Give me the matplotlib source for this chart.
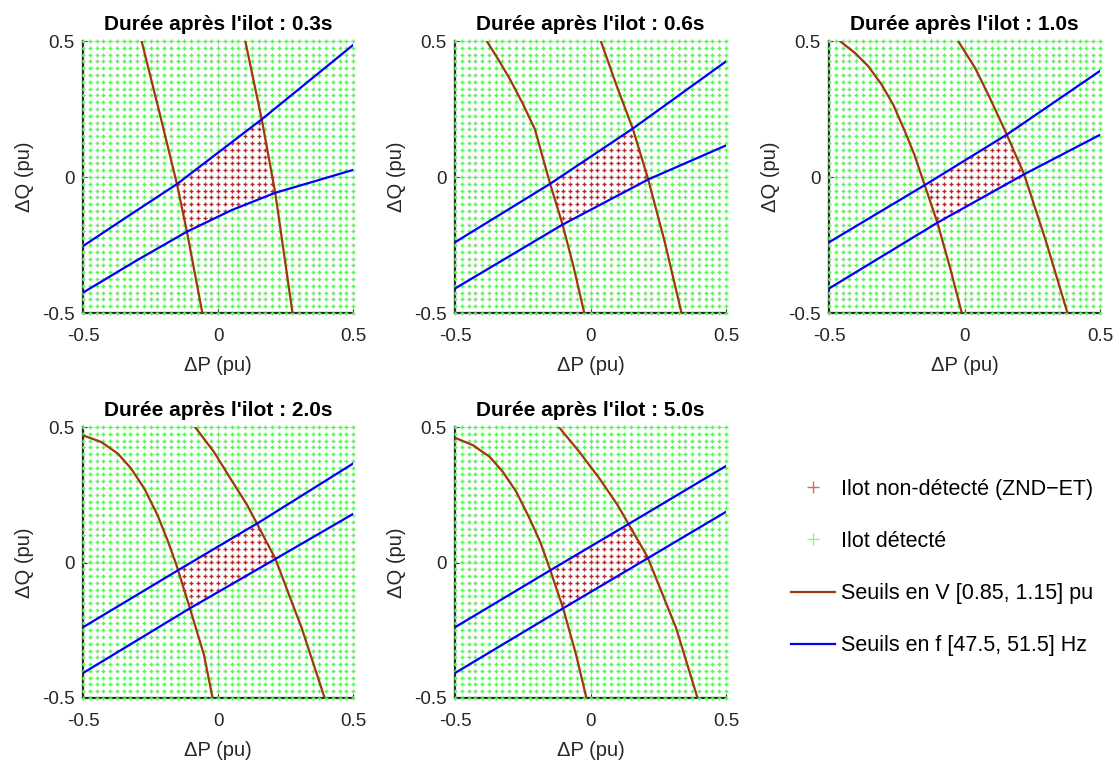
import numpy as np
import matplotlib
matplotlib.use('Agg')
import matplotlib.pyplot as plt
from matplotlib.lines import Line2D

plt.rcParams['font.family'] = ['Liberation Sans', 'DejaVu Sans']
plt.rcParams['axes.unicode_minus'] = False

durees = ['0.3', '0.6', '1.0', '2.0', '5.0']

# seuils en V : courbes (dP, dQ), gauche et droite
v_gauche = [
    ([-0.283, -0.216, -0.152, -0.115, -0.058],
     [0.5, 0.234, -0.026, -0.201, -0.5]),
    ([-0.383, -0.340, -0.297, -0.250, -0.205, -0.149, -0.103, -0.063, -0.023],
     [0.5, 0.432, 0.359, 0.270, 0.175, -0.025, -0.175, -0.328, -0.5]),
    ([-0.459, -0.404, -0.355, -0.306, -0.263, -0.220, -0.185, -0.158, -0.100, -0.051, -0.010],
     [0.499, 0.456, 0.407, 0.340, 0.266, 0.168, 0.082, 0.003, -0.168, -0.342, -0.5]),
    ([-0.500, -0.433, -0.371, -0.322, -0.273, -0.224, -0.185, -0.154, -0.104, -0.052, -0.020],
     [0.469, 0.445, 0.402, 0.347, 0.273, 0.175, 0.077, -0.009, -0.169, -0.341, -0.5]),
    ([-0.500, -0.434, -0.372, -0.323, -0.274, -0.225, -0.186, -0.155, -0.101, -0.053, -0.015],
     [0.460, 0.433, 0.390, 0.334, 0.261, 0.163, 0.077, -0.009, -0.169, -0.341, -0.5]),
]
v_droite = [
    ([0.101, 0.162, 0.212, 0.276],
     [0.5, 0.212, -0.058, -0.5]),
    ([0.038, 0.097, 0.156, 0.213, 0.275, 0.336],
     [0.5, 0.334, 0.178, -0.009, -0.243, -0.5]),
    ([-0.023, 0.039, 0.094, 0.156, 0.220, 0.303, 0.380],
     [0.499, 0.401, 0.290, 0.156, 0.010, -0.244, -0.5]),
    ([-0.085, -0.015, 0.046, 0.108, 0.212, 0.310, 0.395],
     [0.5, 0.408, 0.310, 0.212, 0.015, -0.242, -0.5]),
    ([-0.117, -0.041, 0.033, 0.100, 0.210, 0.316, 0.395],
     [0.5, 0.408, 0.310, 0.212, 0.021, -0.242, -0.5]),
]
# seuils en f : courbes (dP, dQ), haute et basse
f_haut = [
    ([-0.5, -0.327, -0.152, 0.162, 0.5], [-0.254, -0.140, -0.026, 0.212, 0.485]),
    ([-0.5, -0.149, 0.156, 0.5], [-0.240, -0.025, 0.178, 0.425]),
    ([-0.5, -0.142, 0.158, 0.5], [-0.240, -0.027, 0.157, 0.390]),
    ([-0.5, -0.147, 0.155, 0.5], [-0.239, -0.028, 0.150, 0.365]),
    ([-0.5, -0.147, 0.154, 0.5], [-0.239, -0.028, 0.150, 0.356]),
]
f_bas = [
    ([-0.5, -0.30, -0.115, 0.05, 0.212, 0.35, 0.5], [-0.425, -0.306, -0.201, -0.122, -0.058, -0.018, 0.026]),
    ([-0.5, -0.103, 0.213, 0.5], [-0.410, -0.175, -0.009, 0.116]),
    ([-0.5, -0.100, 0.220, 0.5], [-0.410, -0.168, 0.010, 0.155]),
    ([-0.5, -0.104, 0.216, 0.5], [-0.408, -0.169, 0.015, 0.179]),
    ([-0.5, -0.101, 0.215, 0.5], [-0.408, -0.169, 0.018, 0.187]),
]

pas = 0.025
ticks = [-0.5, 0, 0.5]
tick_labels = ['-0.5', '0', '0.5']

c_vert = '#55f555'
c_rouge = '#b82828'
c_brun = '#a0380a'
c_bleu = '#0000ff'
c_txt = '#262626'

W, H = 1116, 764
fig = plt.figure(figsize=(W / 100, H / 100), dpi=100)
# positions des axes en pixels (gauche, haut, droite, bas)
boites = [(83, 41, 353, 313), (455, 41, 726, 313), (829, 41, 1100, 313),
          (83, 427, 353, 698), (455, 427, 726, 698)]

pts = np.arange(-0.5, 0.5 + 1e-9, pas)
PP, QQ = np.meshgrid(pts, pts)
PP = PP.ravel()
QQ = QQ.ravel()

for i in range(5):
    l, t, r, b = boites[i]
    ax = fig.add_axes([l / W, 1 - b / H, (r - l) / W, (b - t) / H])
    gP, gQ = v_gauche[i]
    dP, dQ = v_droite[i]
    hP, hQ = f_haut[i]
    bP, bQ = f_bas[i]
    # zone non detectee : entre les seuils V et entre les seuils f
    pg = np.interp(QQ, gQ[::-1], gP[::-1])
    pd_ = np.interp(QQ, dQ[::-1], dP[::-1])
    qh = np.interp(PP, hP, hQ)
    qb = np.interp(PP, bP, bQ)
    dedans = (PP > pg) & (PP < pd_) & (QQ < qh) & (QQ > qb)

    ax.plot(PP[~dedans], QQ[~dedans], '+', color=c_vert, ms=2.8, mew=1.0, clip_on=False, zorder=4)
    ax.plot(PP[dedans], QQ[dedans], '+', color=c_rouge, ms=2.8, mew=1.0, zorder=4)
    ax.plot(gP, gQ, color=c_brun, lw=1.6, zorder=5)
    ax.plot(dP, dQ, color=c_brun, lw=1.6, zorder=5)
    ax.plot(hP, hQ, color=c_bleu, lw=1.6, zorder=5)
    ax.plot(bP, bQ, color=c_bleu, lw=1.6, zorder=5)

    ax.set_xlim(-0.5, 0.5)
    ax.set_ylim(-0.5, 0.5)
    ax.set_xticks(ticks)
    ax.set_xticklabels(tick_labels)
    ax.set_yticks(ticks)
    ax.set_yticklabels(tick_labels)
    ax.tick_params(direction='in', length=3, labelsize=13.5, colors=c_txt)
    ax.tick_params(axis='x', pad=11)
    ax.tick_params(axis='y', pad=6)
    ax.grid(True, color='#dcdcdc', lw=0.8)
    ax.set_axisbelow(True)
    ax.spines['top'].set_visible(False)
    ax.spines['right'].set_visible(False)
    for s in ['left', 'bottom']:
        ax.spines[s].set_color(c_txt)
        ax.spines[s].set_linewidth(1.6)
    ax.set_xlabel('ΔP (pu)', fontsize=14.5, color=c_txt, labelpad=8)
    ax.set_ylabel('ΔQ (pu)', fontsize=14.5, color=c_txt, labelpad=6)
    ax.set_title("Durée après l'ilot : " + durees[i] + 's', fontsize=15, fontweight='bold', pad=8)

handles = [
    Line2D([], [], ls='none', marker='+', color='#d26a6a', ms=9, mew=1),
    Line2D([], [], ls='none', marker='+', color='#8cf58c', ms=9, mew=1),
    Line2D([], [], color=c_brun, lw=1.6),
    Line2D([], [], color=c_bleu, lw=1.6),
]
labels = ['Ilot non-détecté (ZND−ET)', 'Ilot détecté',
          'Seuils en V [0.85, 1.15] pu', 'Seuils en f [47.5, 51.5] Hz']
fig.legend(handles, labels, loc='upper left', bbox_to_anchor=(0.695, 0.393),
           frameon=False, fontsize=15.5, labelspacing=1.45, handlelength=2.05,
           handletextpad=0.3, borderpad=0.2)

fig.savefig('out.png', dpi=100)
